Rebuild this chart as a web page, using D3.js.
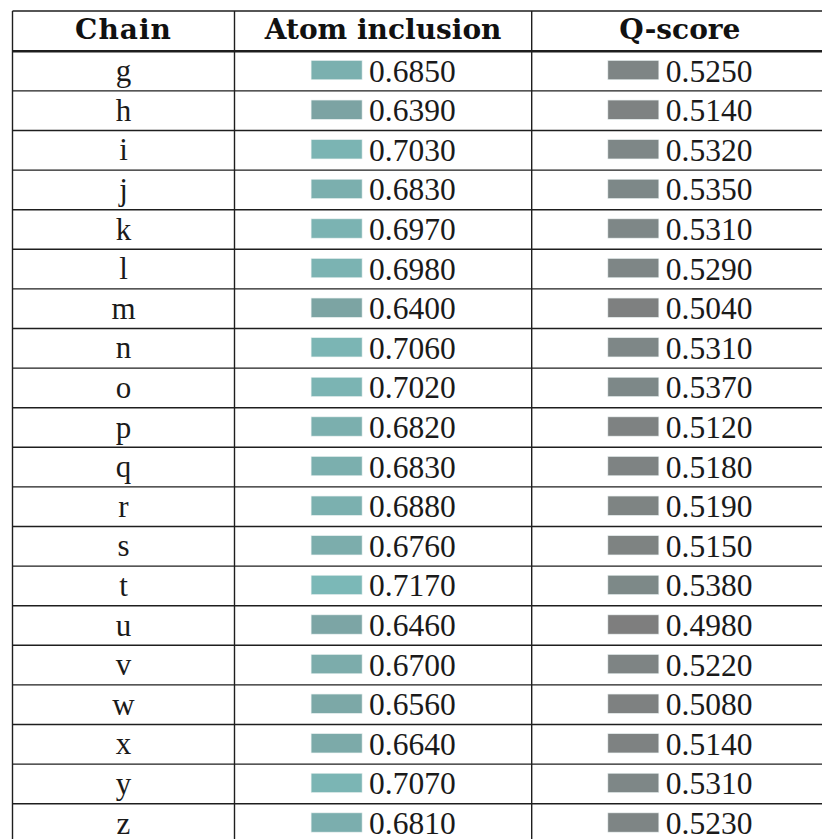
<!DOCTYPE html>
<html><head><meta charset="utf-8">
<script src="https://cdn.jsdelivr.net/npm/d3@7"></script>
<style>html,body{margin:0;padding:0;background:#fff;overflow:hidden}</style>
</head><body><svg id="c" width="822" height="839"></svg>
<script>
const chains = ["g","h","i","j","k","l","m","n","o","p","q","r","s","t","u","v","w","x","y","z"];
const atomInclusion = [0.685,0.639,0.703,0.683,0.697,0.698,0.640,0.706,0.702,0.682,0.683,0.688,0.676,0.717,0.646,0.670,0.656,0.664,0.707,0.681];
const qScore = [0.525,0.514,0.532,0.535,0.531,0.529,0.504,0.531,0.537,0.512,0.518,0.519,0.515,0.538,0.498,0.522,0.508,0.514,0.531,0.523];
const columns = ["Chain","Atom inclusion","Q-score"];

(function(){
const svg = d3.select("#c");
const W = 822, H = 839;
const colEdges = [12.5, 234.5, 531.7, 828];
const tableTop = 11, headerBottom = 51.3, rowH = 39.6;
const lineColor = "#1e1e1e";

const y = d3.scaleBand().domain(chains).range([headerBottom, headerBottom + chains.length*rowH]).paddingInner(0).paddingOuter(0);
const colCenter = i => (colEdges[i] + colEdges[i+1]) / 2;

const allVals = atomInclusion.concat(qScore);
const color = d3.scaleLinear().domain(d3.extent(allVals)).range(["#7e7e7e","#7bb8b7"]);
const fmt = d3.format(".4f");

const bodyFont = "'Liberation Serif', 'Times New Roman', serif";
const headFont = "'DejaVu Serif', serif";

svg.append("g").selectAll("text").data(columns).join("text")
  .attr("x", (d,i) => colCenter(i))
  .attr("y", 39)
  .attr("text-anchor", "middle")
  .attr("font-family", headFont)
  .attr("font-weight", "bold")
  .attr("font-size", 28)
  .attr("letter-spacing", (d,i) => i === 0 ? 1 : 0)
  .attr("fill", "#111")
  .text(d => d);

const rows = svg.append("g").selectAll("g").data(chains).join("g")
  .attr("transform", d => `translate(0,${y(d) + y.bandwidth()/2})`);

rows.append("text")
  .attr("x", colCenter(0))
  .attr("y", 10)
  .attr("text-anchor", "middle")
  .attr("font-family", bodyFont)
  .attr("font-size", 31)
  .attr("fill", "#1a1a1a")
  .text(d => d);

const barW = 51, barH = 19.3, gap = 7, textW = 88;
const groupW = barW + gap + textW;

[atomInclusion, qScore].forEach((vals, k) => {
  const ci = k + 1;
  const x0 = colCenter(ci) - groupW/2 + 1;
  rows.append("rect")
    .attr("x", x0)
    .attr("y", -barH/2 - 1)
    .attr("width", barW)
    .attr("height", barH)
    .attr("fill", (d,i) => color(vals[i]))
    .attr("stroke", "#e8f0f0")
    .attr("stroke-width", 0.6);
  rows.append("text")
    .attr("x", x0 + barW + gap)
    .attr("y", 10.5)
    .attr("font-family", bodyFont)
    .attr("font-size", 31.5)
    .attr("fill", "#1a1a1a")
    .text((d,i) => fmt(vals[i]));
});

const lines = svg.append("g").attr("stroke", lineColor);
lines.append("line").attr("x1", colEdges[0]).attr("x2", W).attr("y1", tableTop).attr("y2", tableTop).attr("stroke-width", 1.4);
lines.append("line").attr("x1", colEdges[0]).attr("x2", W).attr("y1", headerBottom).attr("y2", headerBottom).attr("stroke-width", 2.6);
lines.selectAll("line.row").data(chains.slice(1)).join("line").attr("class","row")
  .attr("x1", colEdges[0]).attr("x2", W)
  .attr("y1", d => y(d)).attr("y2", d => y(d))
  .attr("stroke-width", 1.4);
lines.selectAll("line.col").data(colEdges.slice(0,3)).join("line").attr("class","col")
  .attr("x1", d => d).attr("x2", d => d)
  .attr("y1", tableTop).attr("y2", H)
  .attr("stroke-width", 1.4);
})();
</script>
</body></html>
